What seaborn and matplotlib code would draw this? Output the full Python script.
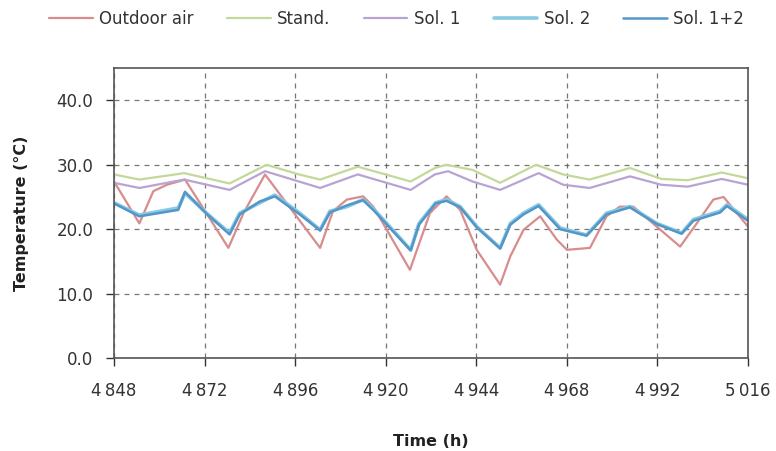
import matplotlib
matplotlib.use("Agg")
import matplotlib.pyplot as plt
import seaborn as sns
import pandas as pd
from matplotlib.ticker import FuncFormatter

# ---- data ----
series_names = ["Outdoor air", "Stand.", "Sol. 1", "Sol. 2", "Sol. 1+2"]

outdoor_t = [4848, 4854.7, 4858.4, 4862, 4866.8, 4878.3, 4882.3, 4888, 4902.6, 4906, 4909.7,
             4914, 4916.7, 4926.4, 4931.7, 4936.1, 4939.7, 4944.1, 4950.3, 4953, 4956.5,
             4960.9, 4965.3, 4968, 4974.1, 4978.5, 4982, 4985.6, 4991.8, 4998, 5002.4,
             5006.8, 5009.5, 5016]
outdoor_v = [27.4, 20.9, 25.9, 26.9, 27.7, 17.1, 22.5, 28.5, 17.1, 22.8, 24.6,
             25.1, 23.5, 13.7, 22.5, 25.1, 23.0, 16.8, 11.4, 15.8, 19.9,
             22.0, 18.4, 16.8, 17.1, 22.0, 23.5, 23.5, 20.4, 17.3, 20.9,
             24.6, 25.0, 20.4]

stand_t = [4848, 4854.7, 4866.6, 4878.6, 4888.4, 4897, 4902.6, 4912.6, 4926.6, 4933,
           4936, 4943, 4950.3, 4959.8, 4967, 4974, 4984.7, 4993, 5000, 5009, 5016]
stand_v = [28.5, 27.7, 28.7, 27.1, 30.0, 28.5, 27.7, 29.7, 27.4, 29.5,
           30.0, 29.2, 27.2, 30.0, 28.5, 27.7, 29.5, 27.8, 27.6, 28.8, 27.9]

sol1_t = [4848, 4854.7, 4866.6, 4878.6, 4888, 4897, 4902.6, 4912.6, 4926.6, 4933,
          4936.5, 4943, 4950.3, 4960.5, 4967, 4974, 4984.7, 4993, 5000, 5009, 5016]
sol1_v = [27.2, 26.4, 27.7, 26.1, 29.0, 27.4, 26.4, 28.5, 26.1, 28.5,
          29.0, 27.4, 26.1, 28.7, 26.9, 26.4, 28.2, 26.9, 26.6, 27.8, 26.9]

sol2_t = [4848, 4854.7, 4865, 4866.8, 4872.5, 4878.6, 4881.3, 4886.6, 4890.6, 4897.2,
          4902.6, 4905.2, 4909.7, 4914, 4917, 4926.6, 4928.8, 4933.2, 4936.1, 4939.7,
          4944.1, 4950.3, 4953, 4956.5, 4960.5, 4966.2, 4973.2, 4978.5, 4984.7, 4991.8,
          4998.4, 5001.5, 5008.6, 5010.4, 5016]
sol2_v = [24.1, 22.2, 23.3, 25.6, 22.5, 19.4, 22.5, 24.1, 25.3, 22.5,
          19.9, 22.8, 23.5, 24.6, 23.0, 16.8, 20.9, 24.1, 24.6, 23.5,
          20.4, 17.1, 20.9, 22.5, 23.8, 20.2, 19.1, 22.5, 23.5, 20.9,
          19.4, 21.5, 22.8, 23.8, 21.5]

sol12_t = [4848, 4854.7, 4865, 4866.8, 4872.5, 4878.6, 4881.3, 4886.6, 4890.6, 4897.2,
           4902.6, 4905.2, 4909.7, 4914, 4917, 4926.6, 4928.8, 4933.2, 4936.1, 4939.7,
           4944.1, 4950.3, 4953, 4956.5, 4960.5, 4966.2, 4973.2, 4978.5, 4984.7, 4991.8,
           4998.4, 5001.5, 5008.6, 5010.4, 5016]
sol12_v = [24.0, 22.0, 23.0, 25.8, 22.4, 19.2, 22.3, 24.3, 25.1, 22.3,
           19.8, 22.6, 23.7, 24.5, 22.8, 16.7, 20.7, 24.0, 24.4, 23.4,
           20.3, 17.0, 20.7, 22.3, 23.6, 20.0, 19.0, 22.3, 23.4, 20.8,
           19.3, 21.3, 22.6, 23.6, 21.3]

x_ticks = [4848, 4872, 4896, 4920, 4944, 4968, 4992, 5016]
y_ticks = [0, 10, 20, 30, 40]

colors = ["#d98c8c", "#c3d899", "#b8a4d2", "#86cbe2", "#5596c8"]
widths = [1.6, 1.6, 1.6, 2.6, 1.8]

frames = []
for name, t, v in [(series_names[0], outdoor_t, outdoor_v),
                   (series_names[1], stand_t, stand_v),
                   (series_names[2], sol1_t, sol1_v),
                   (series_names[3], sol2_t, sol2_v),
                   (series_names[4], sol12_t, sol12_v)]:
    frames.append(pd.DataFrame({"Time (h)": t, "Temperature": v, "Series": name}))
df = pd.concat(frames, ignore_index=True)

sns.set_style("white")
plt.rcParams["font.family"] = ["DejaVu Sans"]

fig = plt.figure(figsize=(7.76, 4.51), dpi=100)
ax = fig.add_axes([0.147, 0.206, 0.817, 0.643])

for name, c, lw in zip(series_names, colors, widths):
    sub = df[df["Series"] == name]
    sns.lineplot(data=sub, x="Time (h)", y="Temperature", ax=ax, color=c,
                 linewidth=lw, label=name, estimator=None, sort=True)

ax.set_xlim(4848, 5016)
ax.set_ylim(0, 45)
ax.set_xticks(x_ticks)
ax.set_yticks(y_ticks)
ax.xaxis.set_major_formatter(FuncFormatter(lambda v, p: f"{int(v):,}".replace(",", "\u2009")))
ax.yaxis.set_major_formatter(FuncFormatter(lambda v, p: f"{v:.1f}"))
ax.grid(True, color="#555555", linestyle=(0, (4, 4)), linewidth=0.9, alpha=0.8)
ax.tick_params(axis="both", labelsize=12, colors="#333333", direction="out",
               length=6, width=1, left=True, bottom=True)
ax.tick_params(axis="x", pad=11)
ax.tick_params(axis="y", pad=9)
for s in ax.spines.values():
    s.set_color("#555555")
    s.set_linewidth(1.2)

ax.set_xlabel("Time (h)", fontsize=11.5, fontweight="bold", labelpad=25, color="#222222")
ax.set_ylabel("Temperature (°C)", fontsize=11.5, fontweight="bold", labelpad=20, color="#222222")

ax.legend(loc="center", bbox_to_anchor=(0.446, 1.17), ncol=5, frameon=False,
          fontsize=12, handlelength=2.6, columnspacing=2.0, handletextpad=0.4,
          labelcolor="#333333")

fig.savefig("out.png", dpi=100)
